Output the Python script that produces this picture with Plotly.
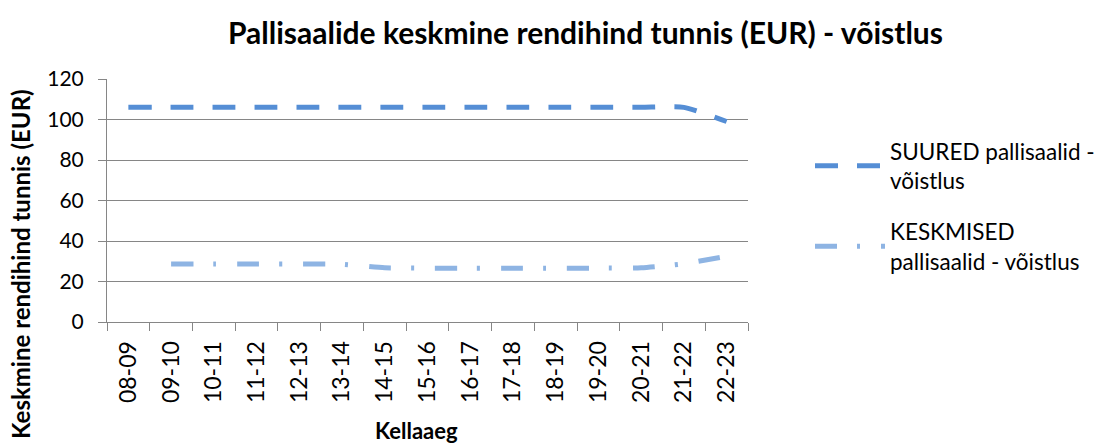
import plotly.graph_objects as go

categories = ["08-09", "09-10", "10-11", "11-12", "12-13", "13-14", "14-15", "15-16",
              "16-17", "17-18", "18-19", "19-20", "20-21", "21-22", "22-23"]
suured = [106, 106, 106, 106, 106, 106, 106, 106, 106, 106, 106, 106, 106, 106, 99]
keskmised = [None, 28.6, 28.6, 28.6, 28.6, 28.5, 26.8, 26.6, 26.6, 26.6, 26.6, 26.6, 26.8, 28.8, 32.5]

name_suured = "SUURED pallisaalid -<br>võistlus"
name_keskmised = "KESKMISED<br>pallisaalid - võistlus"
title_text = "Pallisaalide keskmine rendihind tunnis (EUR) - võistlus"
ytitle_text = "Keskmine rendihind tunnis (EUR)"
xtitle_text = "Kellaaeg"

FONT = "Lato, 'Open Sans', sans-serif"
GRID = "#868686"

# plot area in pixels
L, R, T, B = 107, 748, 79, 322
W, H = R - L, B - T

fig = go.Figure()
fig.add_trace(go.Scatter(
    x=categories, y=suured, name=name_suured, mode="lines", legendgroup="a",
    line=dict(color="#558ED5", width=5, dash="23px,19px", shape="spline", smoothing=0.6),
))
fig.add_trace(go.Scatter(
    x=categories, y=keskmised, name=name_keskmised, mode="lines", legendgroup="b",
    line=dict(color="#8EB4E3", width=5, dash="22px,20px,3px,21px", shape="spline", smoothing=0.6),
))

fig.update_layout(
    width=1111, height=445,
    margin=dict(l=L, r=1111 - R, t=T, b=445 - B, autoexpand=False),
    paper_bgcolor="white", plot_bgcolor="white",
    font=dict(family=FONT, size=21, color="black"),
    showlegend=True,
    legend=dict(
        x=(810 - L) / W, y=(B - 130) / H, xanchor="left", yanchor="top",
        font=dict(family=FONT, size=22.5, color="black"),
        itemwidth=70, tracegroupgap=19, bgcolor="rgba(0,0,0,0)",
    ),
    xaxis=dict(
        type="category", range=[-0.5, 14.5], automargin=False,
        showline=True, linecolor=GRID, linewidth=1,
        showgrid=False, ticks="outside", tickson="boundaries",
        ticklen=8, tickcolor=GRID, tickangle=-90, ticklabelstandoff=9,
        tickfont=dict(family=FONT, size=23, color="black"),
    ),
    yaxis=dict(
        range=[0, 120], dtick=20, tick0=0, automargin=False,
        showline=True, linecolor=GRID, linewidth=1,
        showgrid=True, gridcolor=GRID, gridwidth=1,
        ticks="outside", ticklen=8, tickcolor=GRID, ticklabelstandoff=10,
        tickfont=dict(family=FONT, size=21, color="black"),
        zeroline=False,
    ),
    annotations=[
        dict(text="<b>" + title_text + "</b>",
             xref="paper", yref="paper", x=(585 - L) / W, y=(B - 32) / H,
             xanchor="center", yanchor="middle", showarrow=False,
             font=dict(family=FONT, size=30, color="black")),
        dict(text="<b>" + ytitle_text + "</b>",
             xref="paper", yref="paper", x=(20 - L) / W, y=(B - 264) / H,
             xanchor="center", yanchor="middle", showarrow=False, textangle=-90,
             font=dict(family=FONT, size=24, color="black")),
        dict(text="<b>" + xtitle_text + "</b>",
             xref="paper", yref="paper", x=(416 - L) / W, y=(B - 430) / H,
             xanchor="center", yanchor="middle", showarrow=False,
             font=dict(family=FONT, size=22, color="black")),
    ],
)

fig.write_html("out.html", config={"displayModeBar": False},
               post_script="document.body.style.margin='0';")
